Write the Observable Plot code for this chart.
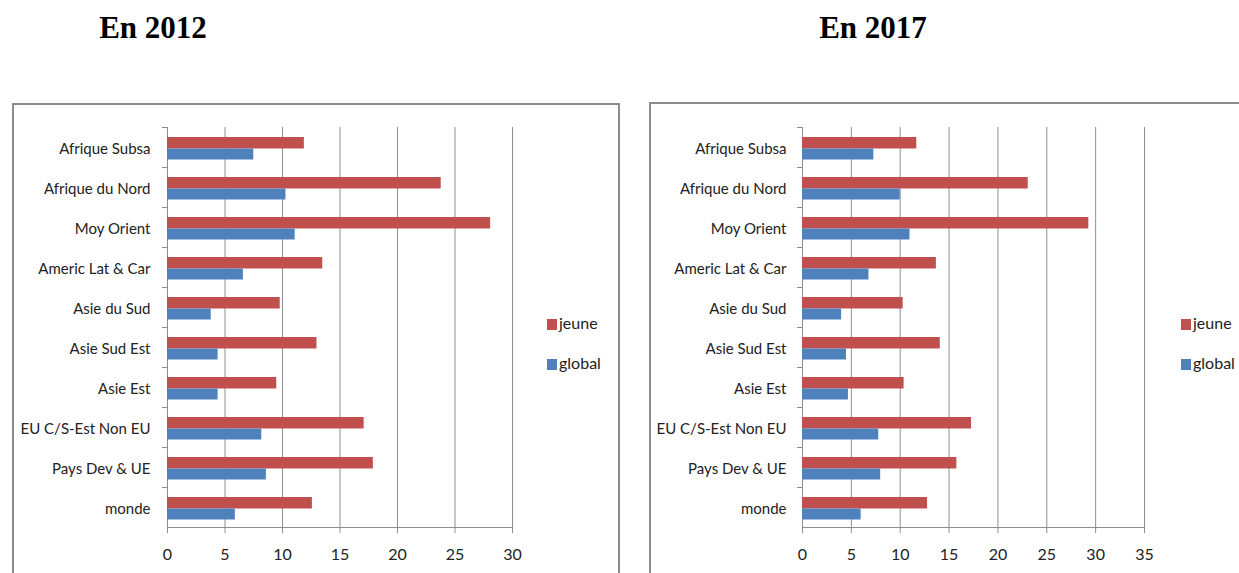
<!DOCTYPE html>
<html>
<head>
<meta charset="utf-8">
<script src="https://cdn.jsdelivr.net/npm/d3@7"></script>
<script src="https://cdn.jsdelivr.net/npm/@observablehq/plot@0.6"></script>
<style>
  html, body { margin: 0; padding: 0; background: #fff; }
  body { width: 1239px; height: 573px; overflow: hidden; position: relative; }
  .title { position: absolute; top: 12px; width: 200px; text-align: center;
    font-family: "Liberation Serif", "Times New Roman", serif; font-weight: bold;
    font-size: 31px; line-height: 31px; color: #000; }
  .box { position: absolute; border: 2px solid #8c8c8c; box-sizing: border-box; height: 600px; }
  .chart { position: absolute; }
  .legend { position: absolute; font-family: Lato, sans-serif; font-size: 16px; color: #222; }
  .legend .item { position: absolute; white-space: nowrap; line-height: 16px; }
  .legend .sw { display: inline-block; width: 10px; height: 11px; margin-right: 2px; vertical-align: -1px; }
</style>
</head>
<body>
<script>
// ---- data ----
const categories = ["Afrique Subsa", "Afrique du Nord", "Moy Orient", "Americ Lat & Car", "Asie du Sud",
  "Asie Sud Est", "Asie Est", "EU C/S-Est Non EU", "Pays Dev & UE", "monde"];
const series = ["jeune", "global"];
const colors = ["#C0504D", "#4F81BD"];
const jeune2012 = [11.9, 23.8, 28.1, 13.5, 9.8, 13.0, 9.5, 17.1, 17.9, 12.6];
const global2012 = [7.5, 10.3, 11.1, 6.6, 3.8, 4.4, 4.4, 8.2, 8.6, 5.9];
const jeune2017 = [11.7, 23.1, 29.3, 13.7, 10.3, 14.1, 10.4, 17.3, 15.8, 12.8];
const global2017 = [7.3, 10.0, 11.0, 6.8, 4.0, 4.5, 4.7, 7.8, 8.0, 6.0];
const ticks2012 = [0, 5, 10, 15, 20, 25, 30];
const ticks2017 = [0, 5, 10, 15, 20, 25, 30, 35];
const titles = ["En 2012", "En 2017"];

const FONT = "Lato, sans-serif";
const GRID = "#8e8e8e";

function makeChart(jeune, global, ticks, opts) {
  const rowsJ = categories.map((c, i) => ({category: c, value: jeune[i]}));
  const rowsG = categories.map((c, i) => ({category: c, value: global[i]}));
  return Plot.plot({
    width: opts.width,
    height: 472,
    marginLeft: opts.marginLeft,
    marginRight: opts.marginRight,
    marginTop: 26,
    marginBottom: 46,
    style: {fontFamily: FONT, fontSize: "16px", color: "#222", background: "transparent"},
    x: {domain: [ticks[0], ticks[ticks.length - 1]], axis: null},
    y: {domain: categories, padding: 0, axis: null},
    marks: [
      Plot.gridX({ticks, stroke: GRID, strokeOpacity: 1, strokeWidth: 1}),
      Plot.frame({anchor: "bottom", stroke: GRID, strokeWidth: 1}),
      Plot.ruleX([0], {stroke: GRID, strokeWidth: 1}),
      Plot.barX(rowsJ, {x: "value", y: "category", fill: colors[0], insetTop: 10, insetBottom: 18.5}),
      Plot.barX(rowsG, {x: "value", y: "category", fill: colors[1], insetTop: 21.5, insetBottom: 7.5}),
      Plot.axisX({ticks, tickSize: 6, tickPadding: 15, stroke: GRID, fill: "#222", fontSize: 16, label: null}),
      Plot.axisY({tickSize: 0, tickPadding: opts.labelGap, dy: 2, fill: "#222", fontSize: 15, label: null}),
      Plot.axisY({tickSize: 5, text: null, dy: -20, stroke: GRID, label: null})
    ]
  });
}

function addLegend(left, top) {
  const lg = document.createElement("div");
  lg.className = "legend";
  lg.style.left = left + "px";
  lg.style.top = top + "px";
  series.forEach((s, i) => {
    const it = document.createElement("div");
    it.className = "item";
    it.style.top = (i * 40) + "px";
    it.innerHTML = `<span class="sw" style="background:${colors[i]}"></span>${s}`;
    lg.appendChild(it);
  });
  document.body.appendChild(lg);
}

function addTitle(text, center) {
  const t = document.createElement("div");
  t.className = "title";
  t.style.left = (center - 100) + "px";
  t.textContent = text;
  document.body.appendChild(t);
}

function addBox(left, top, width) {
  const b = document.createElement("div");
  b.className = "box";
  b.style.left = left + "px";
  b.style.top = top + "px";
  b.style.width = width + "px";
  document.body.appendChild(b);
}

addTitle(titles[0], 153);
addTitle(titles[1], 873);
addBox(12, 103, 608);
addBox(649, 102, 640);

const c1 = makeChart(jeune2012, global2012, ticks2012, {width: 607, marginLeft: 155, marginRight: 107, labelGap: 17});
c1.classList.add("chart");
c1.style.left = "12px"; c1.style.top = "101px";
document.body.appendChild(c1);

const c2 = makeChart(jeune2017, global2017, ticks2017, {width: 589, marginLeft: 153, marginRight: 94, labelGap: 16});
c2.classList.add("chart");
c2.style.left = "649px"; c2.style.top = "101px";
document.body.appendChild(c2);

addLegend(547, 315);
addLegend(1181, 315);
</script>
</body>
</html>
